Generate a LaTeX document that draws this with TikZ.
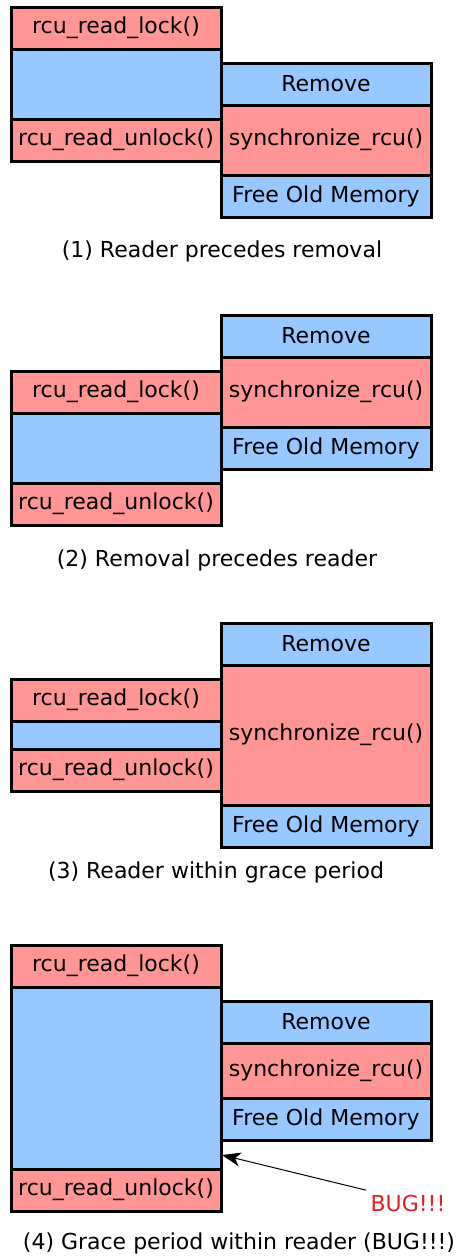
\documentclass[tikz,border=0pt]{standalone}
\usepackage{fontspec}
\setmainfont{DejaVu Sans}
\usetikzlibrary{arrows.meta}

\definecolor{pinkfill}{RGB}{255,149,149}
\definecolor{bluefill}{RGB}{151,200,255}
\definecolor{bugred}{RGB}{232,28,36}

\tikzset{every picture/.style={line width=0.75pt}}
\tikzset{box/.style={draw=black,line width=2.25pt,rectangle,anchor=north west,inner sep=0pt,outer sep=0pt,minimum width=157.5pt,font=\fontsize{16.5}{19}\selectfont}}
\tikzset{caption/.style={inner sep=0.75pt,font=\fontsize{16.5}{19}\selectfont}}

\begin{document}
\begin{tikzpicture}[x=0.75pt,y=0.75pt,yscale=-1,xscale=1]
\useasboundingbox (0,0) rectangle (458,1258);

%Panel 1
%Shape: Rectangle [id:p1lock] 
\node (p1lock) [box,fill=pinkfill,minimum height=31.5pt] at (11,7) {rcu\_read\_lock()};
%Shape: Rectangle [id:p1read] 
\node (p1read) [box,fill=bluefill,minimum height=52.5pt] at (11,49) {};
%Shape: Rectangle [id:p1unlock] 
\node (p1unlock) [box,fill=pinkfill,minimum height=31.5pt] at (11,119) {rcu\_read\_unlock()};
%Shape: Rectangle [id:p1remove] 
\node (p1remove) [box,fill=bluefill,minimum height=31.5pt] at (221,63) {Remove};
%Shape: Rectangle [id:p1sync] 
\node (p1sync) [box,fill=pinkfill,minimum height=52.5pt] at (221,105) {synchronize\_rcu()};
%Shape: Rectangle [id:p1free] 
\node (p1free) [box,fill=bluefill,minimum height=31.5pt] at (221,175) {Free Old Memory};
% Text Node
\node (p1cap) [caption] at (222,251) {(1) Reader precedes removal};

%Panel 2
%Shape: Rectangle [id:p2remove] 
\node (p2remove) [box,fill=bluefill,minimum height=31.5pt] at (221,315) {Remove};
%Shape: Rectangle [id:p2sync] 
\node (p2sync) [box,fill=pinkfill,minimum height=52.5pt] at (221,357) {synchronize\_rcu()};
%Shape: Rectangle [id:p2free] 
\node (p2free) [box,fill=bluefill,minimum height=31.5pt] at (221,427) {Free Old Memory};
%Shape: Rectangle [id:p2lock] 
\node (p2lock) [box,fill=pinkfill,minimum height=31.5pt] at (11,371) {rcu\_read\_lock()};
%Shape: Rectangle [id:p2read] 
\node (p2read) [box,fill=bluefill,minimum height=52.5pt] at (11,413) {};
%Shape: Rectangle [id:p2unlock] 
\node (p2unlock) [box,fill=pinkfill,minimum height=31.5pt] at (11,483) {rcu\_read\_unlock()};
% Text Node
\node (p2cap) [caption] at (217,560) {(2) Removal precedes reader};

%Panel 3
%Shape: Rectangle [id:p3remove] 
\node (p3remove) [box,fill=bluefill,minimum height=31.5pt] at (221,623) {Remove};
%Shape: Rectangle [id:p3sync] 
\node (p3sync) [box,fill=pinkfill,minimum height=105pt] at (221,665) {synchronize\_rcu()};
%Shape: Rectangle [id:p3free] 
\node (p3free) [box,fill=bluefill,minimum height=31.5pt] at (221,805) {Free Old Memory};
%Shape: Rectangle [id:p3lock] 
\node (p3lock) [box,fill=pinkfill,minimum height=31.5pt] at (11,679) {rcu\_read\_lock()};
%Shape: Rectangle [id:p3read] 
\node (p3read) [box,fill=bluefill,minimum height=21pt] at (11,721) {};
%Shape: Rectangle [id:p3unlock] 
\node (p3unlock) [box,fill=pinkfill,minimum height=31.5pt] at (11,749) {rcu\_read\_unlock()};
% Text Node
\node (p3cap) [caption] at (216,872) {(3) Reader within grace period};

%Panel 4
%Shape: Rectangle [id:p4lock] 
\node (p4lock) [box,fill=pinkfill,minimum height=31.5pt] at (11,945) {rcu\_read\_lock()};
%Shape: Rectangle [id:p4read] 
\node (p4read) [box,fill=bluefill,minimum height=136.5pt] at (11,987) {};
%Shape: Rectangle [id:p4unlock] 
\node (p4unlock) [box,fill=pinkfill,minimum height=31.5pt] at (11,1169) {rcu\_read\_unlock()};
%Shape: Rectangle [id:p4remove] 
\node (p4remove) [box,fill=bluefill,minimum height=31.5pt] at (221,1001) {Remove};
%Shape: Rectangle [id:p4sync] 
\node (p4sync) [box,fill=pinkfill,minimum height=41.25pt] at (221,1043) {synchronize\_rcu()};
%Shape: Rectangle [id:p4free] 
\node (p4free) [box,fill=bluefill,minimum height=31.5pt] at (221,1098) {Free Old Memory};
% Text Node
\node (bug) [caption,text=bugred,inner sep=3pt] at (408,1203) {BUG!!!};
\coordinate (bugtip) at (222,1155);
%Straight Lines [id:bugarrow] 
\draw [-{Stealth[length=14pt,width=10.5pt,inset=4pt]}] (bug.north west) -- (bugtip);
% Text Node
\node (p4cap) [caption] at (239,1243) {(4) Grace period within reader (BUG!!!)};

\end{tikzpicture}
\end{document}
